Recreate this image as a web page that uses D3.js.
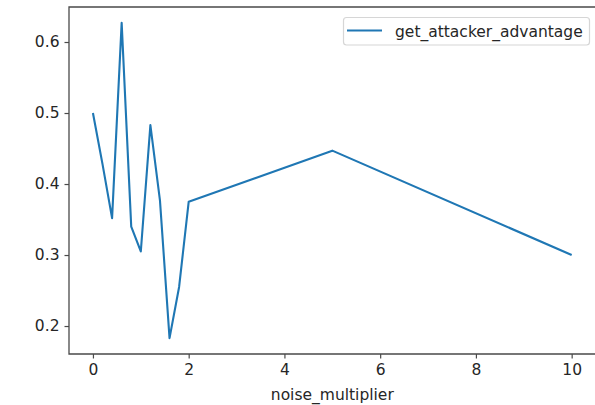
<!DOCTYPE html>
<html>
<head>
<meta charset="utf-8">
<script src="https://cdn.jsdelivr.net/npm/d3@7"></script>
<style>
  html, body { margin: 0; padding: 0; background: #fff; }
  svg { display: block; font-family: "DejaVu Sans", sans-serif; }
</style>
</head>
<body>
<svg id="chart" width="595" height="405"></svg>
<script>
// Attacker advantage measured at each noise multiplier
const noiseMultiplier = [0, 0.2, 0.4, 0.6, 0.8, 1.0, 1.2, 1.4, 1.6, 1.8, 2, 5, 10];
const attackerAdvantage = [0.500, 0.428, 0.352, 0.627, 0.340, 0.305, 0.483, 0.377, 0.183, 0.255, 0.375, 0.447, 0.300];
const xTicks = [0, 2, 4, 6, 8, 10];
const yTicks = [0.2, 0.3, 0.4, 0.5, 0.6];
const seriesName = "get_attacker_advantage";
const xLabel = "noise_multiplier";

const svg = d3.select("#chart");
const plotLeft = 69, plotRight = 595.6, plotTop = 7, plotBottom = 354;
const fontSize = 15.5;
const ink = "#262626";
const spine = "#4a4a4a";

const x = d3.scaleLinear().domain([-0.5, 10.5]).range([plotLeft, plotRight]);
const y = d3.scaleLinear().domain([0.1606, 0.6493]).range([plotBottom, plotTop]);

// spines: left, bottom, top
svg.append("path")
  .attr("d", `M${plotRight},${plotTop}H${plotLeft}V${plotBottom}H${plotRight}`)
  .attr("fill", "none").attr("stroke", spine).attr("stroke-width", 1.3);

const xAxis = svg.append("g").attr("transform", `translate(0,${plotBottom})`)
  .call(d3.axisBottom(x).tickValues(xTicks).tickFormat(d3.format("d")).tickSize(4.5).tickPadding(5));
const yAxis = svg.append("g").attr("transform", `translate(${plotLeft},0)`)
  .call(d3.axisLeft(y).tickValues(yTicks).tickFormat(d3.format(".1f")).tickSize(4.5).tickPadding(5));

[xAxis, yAxis].forEach(g => {
  g.select(".domain").remove();
  g.selectAll(".tick line").attr("stroke", spine).attr("stroke-width", 1.2);
  g.selectAll(".tick text").attr("fill", ink).style("font-size", fontSize + "px")
    .style("font-family", "DejaVu Sans, sans-serif");
});

svg.append("text")
  .attr("x", (plotLeft + plotRight) / 2).attr("y", 400)
  .attr("text-anchor", "middle").attr("fill", ink)
  .style("font-size", fontSize + "px")
  .text(xLabel);

// series line
const line = d3.line().x((d, i) => x(noiseMultiplier[i])).y(d => y(d));
svg.append("path")
  .datum(attackerAdvantage)
  .attr("d", line)
  .attr("fill", "none").attr("stroke", "#1f77b4")
  .attr("stroke-width", 2.1).attr("stroke-linejoin", "round");

// legend
const lg = svg.append("g");
lg.append("rect")
  .attr("x", 343.5).attr("y", 17.5).attr("width", 246).attr("height", 27.5)
  .attr("rx", 3).attr("fill", "#fff").attr("fill-opacity", 0.8)
  .attr("stroke", "#d6d6d6").attr("stroke-width", 1.2);
lg.append("line")
  .attr("x1", 347).attr("x2", 382).attr("y1", 30.5).attr("y2", 30.5)
  .attr("stroke", "#1f77b4").attr("stroke-width", 2.1);
lg.append("text")
  .attr("x", 395).attr("y", 36.5).attr("fill", ink)
  .style("font-size", fontSize + "px")
  .text(seriesName);
</script>
</body>
</html>
